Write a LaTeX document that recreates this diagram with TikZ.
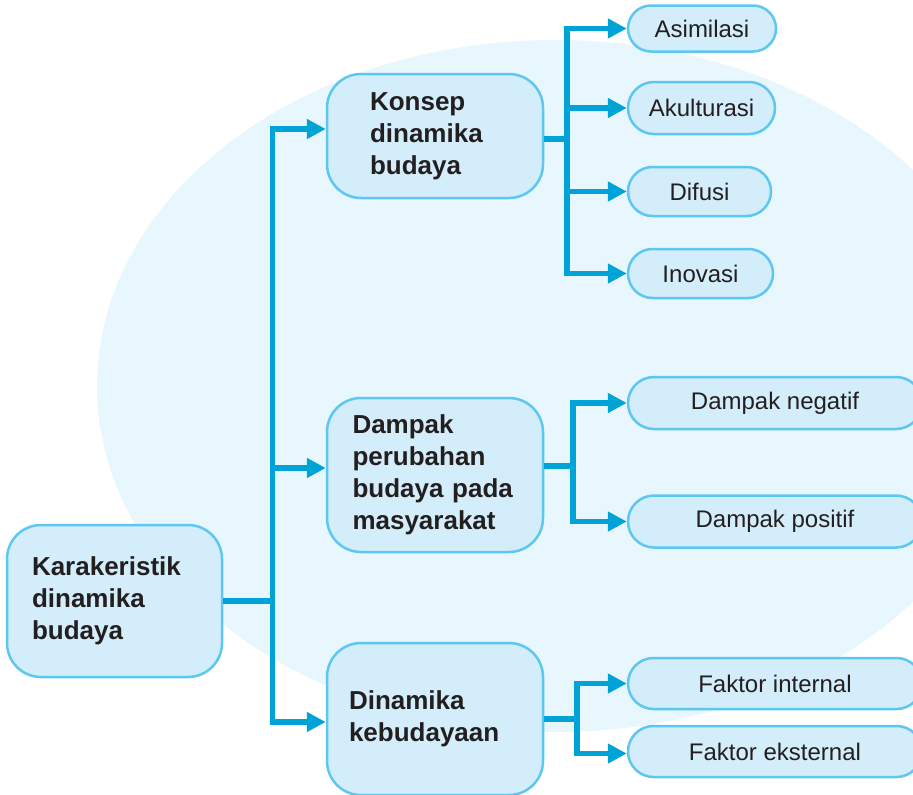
\documentclass[tikz,border=0pt]{standalone}
\usepackage{fontspec}
\setmainfont{Liberation Sans}
\usetikzlibrary{arrows.meta,shapes.misc}
\definecolor{bgell}{HTML}{E8F6FD}
\definecolor{boxfill}{HTML}{D4EDFA}
\definecolor{boxline}{HTML}{5CC8F2}
\definecolor{conn}{HTML}{00A3D5}
\definecolor{txt}{HTML}{231F20}
\tikzset{
  bigbox/.style={draw=boxline, fill=boxfill, line width=2.5pt, rounded corners=34pt,
    align=left, text=txt, font=\fontsize{26}{32}\selectfont\bfseries, inner ysep=0pt},
  pill/.style={draw=boxline, fill=boxfill, line width=2.5pt, rounded rectangle,
    text=txt, font=\fontsize{24}{28}\selectfont, inner sep=0pt},
  ln/.style={draw=conn, line width=5.5pt, line join=miter},
  arr/.style={ln, -{Triangle[length=19pt,width=19pt]}}
}
\begin{document}
\begin{tikzpicture}[x=1pt,y=-1pt]
\useasboundingbox (0,0) rectangle (913,795);
\clip (0,0) rectangle (913,795);
\fill[bgell] (555,386) ellipse [x radius=458, y radius=346];

% main boxes
\node[bigbox, minimum width=215pt, minimum height=152pt, text width=165pt, inner xsep=25pt] (root) at (114.5,601) {Karakeristik\\dinamika\\budaya};
\node[bigbox, minimum width=216pt, minimum height=124pt, text width=130pt, inner xsep=43pt] (konsep) at (435,136) {Konsep\\dinamika\\budaya};
\node[bigbox, minimum width=216pt, minimum height=154pt, text width=165pt, inner xsep=25.5pt] (dampak) at (435,475) {Dampak\\perubahan\\budaya pada\\masyarakat};
\node[bigbox, minimum width=216pt, minimum height=152pt, text width=172pt, inner xsep=22pt] (dinam) at (435,719) {Dinamika\\kebudayaan};

% leaves
\node[pill, minimum width=148pt, minimum height=46pt] (asim) at (702,28.5) {Asimilasi};
\node[pill, minimum width=147pt, minimum height=52pt] (akul) at (701.5,108) {Akulturasi};
\node[pill, minimum width=143pt, minimum height=49pt] (difu) at (699.5,191.5) {Difusi};
\node[pill, minimum width=145pt, minimum height=49pt] (inov) at (700.5,273.5) {Inovasi};
\node[pill, minimum width=294pt, minimum height=52pt] (neg) at (775,403) {Dampak negatif};
\node[pill, minimum width=294pt, minimum height=52pt] (pos) at (775,521.5) {Dampak positif};
\node[pill, minimum width=294pt, minimum height=51pt] (fint) at (775,683.5) {Faktor internal};
\node[pill, minimum width=294pt, minimum height=51pt] (feks) at (775,751.5) {Faktor eksternal};

% junctions
\coordinate (j1) at (272.5,601);
\coordinate (j2) at (567,139);
\coordinate (j3) at (573,466);
\coordinate (j4) at (577,719);

% root connectors
\draw[ln] (root.east) -- (j1);
\draw[arr] (j1) |- ([yshift=7pt]konsep.west);
\draw[arr] (j1) |- ([yshift=7pt]dampak.west);
\draw[arr] (j1) |- ([yshift=-3pt]dinam.west);

% konsep connectors
\draw[ln] ([yshift=-3pt]konsep.east) -- (j2);
\draw[arr] (j2) |- (asim.west);
\draw[arr] (j2) |- (akul.west);
\draw[arr] (j2) |- (difu.west);
\draw[arr] (j2) |- (inov.west);

% dampak connectors
\draw[ln] ([yshift=9pt]dampak.east) -- (j3);
\draw[arr] (j3) |- (neg.west);
\draw[arr] (j3) |- (pos.west);

% dinamika connectors
\draw[ln] (dinam.east) -- (j4);
\draw[arr] (j4) |- (fint.west);
\draw[arr] (j4) |- ([yshift=-2pt]feks.west);
\end{tikzpicture}
\end{document}
